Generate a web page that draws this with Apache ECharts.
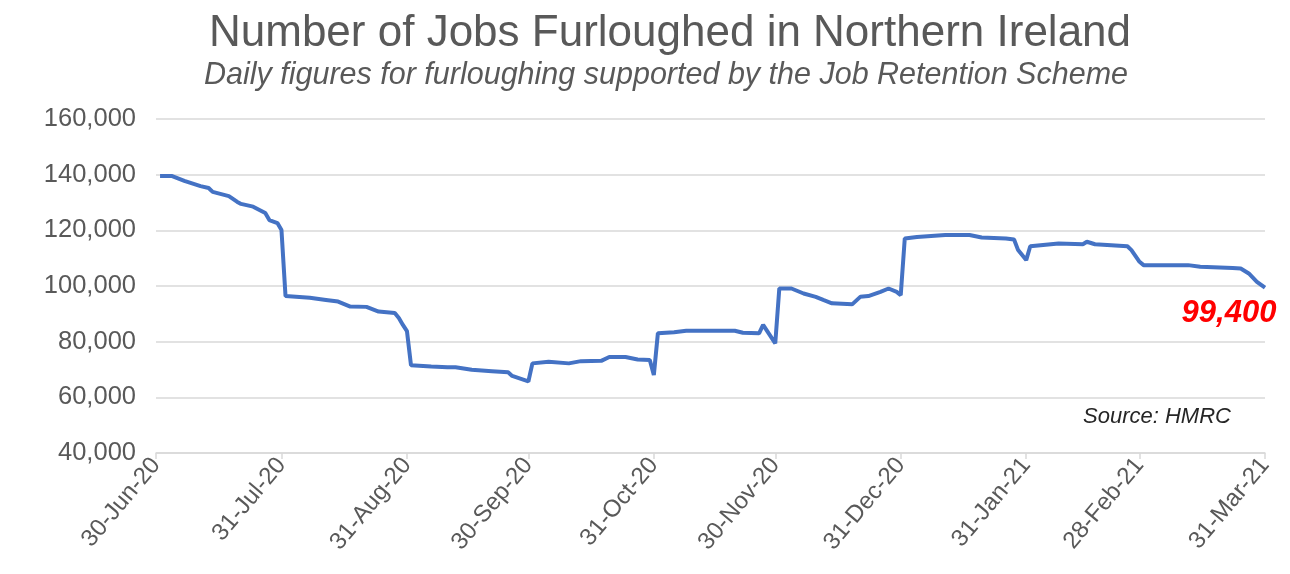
<!DOCTYPE html>
<html>
<head>
<meta charset="utf-8">
<script src="https://cdn.jsdelivr.net/npm/echarts@6/dist/echarts.min.js"></script>
<style>html,body{margin:0;padding:0;background:#fff}#chart{width:1290px;height:574px}</style>
</head>
<body>
<div id="chart"></div>
<script>
// Observed points (date, number of jobs furloughed)
const dates = [
  '2020-07-01','2020-07-04','2020-07-07','2020-07-11','2020-07-13','2020-07-14','2020-07-18','2020-07-20',
  '2020-07-21','2020-07-24','2020-07-27','2020-07-28','2020-07-30','2020-07-31','2020-08-01','2020-08-07',
  '2020-08-11','2020-08-14','2020-08-17','2020-08-21','2020-08-24','2020-08-28','2020-08-29','2020-08-30',
  '2020-08-31','2020-09-01','2020-09-06','2020-09-10','2020-09-12','2020-09-16','2020-09-21','2020-09-25',
  '2020-09-26','2020-09-30','2020-10-01','2020-10-05','2020-10-10','2020-10-13','2020-10-18','2020-10-20',
  '2020-10-24','2020-10-27','2020-10-30','2020-10-31','2020-11-01','2020-11-05','2020-11-08','2020-11-20',
  '2020-11-22','2020-11-26','2020-11-27','2020-11-30','2020-12-01','2020-12-04','2020-12-07','2020-12-10',
  '2020-12-12','2020-12-14','2020-12-19','2020-12-21','2020-12-23','2020-12-26','2020-12-28','2020-12-30',
  '2020-12-31','2021-01-01','2021-01-04','2021-01-11','2021-01-17','2021-01-20','2021-01-26','2021-01-28',
  '2021-01-29','2021-01-31','2021-02-01','2021-02-08','2021-02-14','2021-02-15','2021-02-17','2021-02-25',
  '2021-02-26','2021-02-28','2021-03-01','2021-03-12','2021-03-15','2021-03-23','2021-03-25','2021-03-27',
  '2021-03-29','2021-03-31'
];
const jobs = [
  139500,139500,137800,135900,135200,133800,132300,130300,
  129500,128500,126200,123700,122600,120100,96400,95800,
  95000,94400,92600,92500,90800,90300,88500,86000,
  83800,71500,71100,70800,70800,69900,69400,69000,
  67700,65700,72200,72800,72200,73000,73100,74500,
  74500,73600,73400,68000,83000,83400,83900,83900,
  83200,83000,86000,79400,99100,99100,97300,96100,
  94900,93800,93400,96100,96400,97900,99100,97900,
  96700,117100,117600,118300,118300,117400,117100,116700,
  112900,109300,114300,115300,115000,115900,115000,114300,
  112900,108700,107500,107500,106900,106500,106300,104500,
  101500,99400
];
const tickDates = ['2020-06-30','2020-07-31','2020-08-31','2020-09-30','2020-10-31',
                   '2020-11-30','2020-12-31','2021-01-31','2021-02-28','2021-03-31'];
const yTicks = [40000, 60000, 80000, 100000, 120000, 140000, 160000];
const titleText = 'Number of Jobs Furloughed in Northern Ireland';
const subtitleText = 'Daily figures for furloughing supported by the Job Retention Scheme';
const sourceText = 'Source: HMRC';

// daily categories for the axis
const categories = [];
(function () {
  let t = Date.UTC(2020, 5, 30);
  const end = Date.UTC(2021, 2, 31);
  while (t <= end) {
    categories.push(new Date(t).toISOString().slice(0, 10));
    t += 86400000;
  }
})();
const monthNames = ['Jan','Feb','Mar','Apr','May','Jun','Jul','Aug','Sep','Oct','Nov','Dec'];
function fmtDate(s) {
  const p = s.split('-');
  return parseInt(p[2], 10) + '-' + monthNames[parseInt(p[1], 10) - 1] + '-' + p[0].slice(2);
}
const tickSet = new Set(tickDates);
const seriesData = dates.map((d, i) => [d, jobs[i]]);
const lastIdx = dates.length - 1;

const FONT = 'Liberation Sans, Arial, sans-serif';
const chart = echarts.init(document.getElementById('chart'), null, {renderer: 'canvas'});
chart.setOption({
  animation: false,
  backgroundColor: '#ffffff',
  title: [{
    text: titleText,
    left: 204, top: 7,
    textStyle: {fontFamily: FONT, fontSize: 44, fontWeight: 'normal', color: '#595959'}
  }, {
    text: subtitleText,
    left: 199, top: 56,
    textStyle: {fontFamily: FONT, fontSize: 30.5, fontStyle: 'italic', fontWeight: 'normal', color: '#595959'}
  }],
  grid: {left: 156, right: 25, top: 119, bottom: 121},
  xAxis: {
    type: 'category',
    data: categories,
    boundaryGap: false,
    axisLine: {lineStyle: {color: '#d9d9d9', width: 1.5}},
    axisTick: {show: true, length: 6, lineStyle: {color: '#d9d9d9', width: 1.5},
               interval: (idx, val) => tickSet.has(val)},
    axisLabel: {
      interval: (idx, val) => tickSet.has(val),
      rotate: 50, margin: 8,
      formatter: v => fmtDate(v),
      fontFamily: FONT, fontSize: 24, color: '#595959'
    },
    splitLine: {show: false}
  },
  yAxis: {
    type: 'value',
    min: yTicks[0], max: yTicks[yTicks.length - 1], interval: 20000,
    axisLine: {show: false}, axisTick: {show: false},
    axisLabel: {
      fontFamily: FONT, fontSize: 25.5, color: '#595959', margin: 20,
      formatter: v => v.toLocaleString('en-US')
    },
    splitLine: {lineStyle: {color: '#d9d9d9', width: 1.5}}
  },
  series: [{
    type: 'line',
    data: seriesData,
    showSymbol: false,
    lineStyle: {color: '#4472c4', width: 4},
    itemStyle: {color: '#4472c4'},
    markPoint: {
      symbol: 'circle', symbolSize: 0,
      data: [{coord: [dates[lastIdx], jobs[lastIdx]], value: jobs[lastIdx]}],
      label: {
        show: true,
        formatter: p => p.value.toLocaleString('en-US'),
        offset: [-36, 26],
        fontFamily: FONT, fontSize: 31, fontWeight: 'bold', fontStyle: 'italic', color: '#ff0000'
      }
    }
  }],
  graphic: [{
    type: 'text', left: 1083, top: 406,
    style: {text: sourceText, font: 'italic 22px ' + FONT, fill: '#262626'}
  }]
});
</script>
</body>
</html>
